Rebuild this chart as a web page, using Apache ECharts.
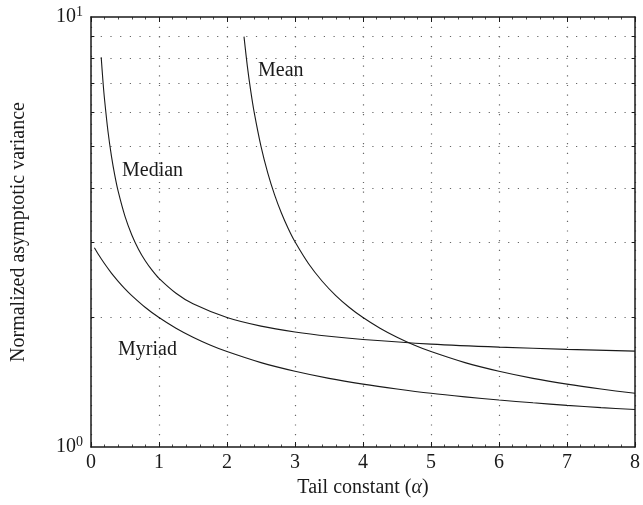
<!DOCTYPE html>
<html>
<head>
<meta charset="utf-8">
<script src="https://cdn.jsdelivr.net/npm/echarts@6/dist/echarts.min.js"></script>
<style>
html,body{margin:0;padding:0;background:#fff;}
#chart{width:643px;height:505px;}
</style>
</head>
<body>
<div id="chart"></div>
<script>
// Tail constant (alpha) samples and normalized asymptotic variance
var meanAlpha   = [2.25, 2.3, 2.35, 2.4, 2.5, 2.6, 2.7, 2.8, 2.9, 3.0, 3.2, 3.4, 3.6, 3.8, 4.0, 4.25, 4.5, 4.75, 5.0, 5.5, 6.0, 6.5, 7.0, 7.5, 8.0];
var meanValues  = [9.0, 7.667, 6.714, 6.0, 5.0, 4.333, 3.857, 3.5, 3.222, 3.0, 2.667, 2.429, 2.25, 2.111, 2.0, 1.889, 1.8, 1.727, 1.667, 1.571, 1.5, 1.444, 1.4, 1.364, 1.333];

var medianAlpha  = [0.15, 0.175, 0.2, 0.25, 0.3, 0.35, 0.4, 0.5, 0.6, 0.7, 0.8, 0.9, 1.0, 1.25, 1.5, 2.0, 2.5, 3.0, 3.5, 4.0, 5.0, 6.0, 7.0, 8.0];
var medianValues = [8.06, 7.12, 6.41, 5.415, 4.753, 4.281, 3.929, 3.438, 3.112, 2.880, 2.707, 2.574, 2.467, 2.278, 2.153, 2.0, 1.910, 1.851, 1.809, 1.778, 1.735, 1.707, 1.687, 1.671];

var myriadAlpha  = [0.05, 0.1, 0.2, 0.3, 0.4, 0.5, 0.6, 0.8, 1.0, 1.25, 1.5, 1.75, 2.0, 2.5, 3.0, 3.5, 4.0, 4.5, 5.0, 5.5, 6.0, 6.5, 7.0, 7.5, 8.0];
var myriadValues = [2.905, 2.818, 2.667, 2.538, 2.429, 2.333, 2.25, 2.111, 2.0, 1.889, 1.8, 1.727, 1.667, 1.571, 1.5, 1.444, 1.4, 1.364, 1.333, 1.308, 1.286, 1.267, 1.25, 1.235, 1.222];

var xTicks = [0, 1, 2, 3, 4, 5, 6, 7, 8];
var yMinorValues = [2, 3, 4, 5, 6, 7, 8, 9];
var yLabels = {1: '10{s|0}', 10: '10{s|1}'};

function pairs(xs, ys) { return xs.map(function (x, i) { return [x, ys[i]]; }); }

var FONT = '"Liberation Serif", "DejaVu Serif", serif';
var INK = '#1a1a1a';

var lineStyle = { color: INK, width: 1.1 };

var gridDots = yMinorValues.map(function (v) { return { yAxis: v }; });
var leftTicks = yMinorValues.map(function (v) { return [{ coord: [0, v] }, { coord: [0.05, v] }]; });
var rightTicks = yMinorValues.map(function (v) { return [{ coord: [7.95, v] }, { coord: [8, v] }]; });

var chart = echarts.init(document.getElementById('chart'), null, { renderer: 'canvas' });

chart.setOption({
  animation: false,
  backgroundColor: '#fff',
  grid: { left: 91, right: 7, top: 17, bottom: 58, containLabel: false },
  xAxis: [{
    type: 'value', min: 0, max: 8, interval: 1, position: 'bottom',
    name: 'Tail constant ({i|α})', nameLocation: 'middle', nameGap: 30,
    nameTextStyle: { fontFamily: FONT, fontSize: 20, color: INK,
      rich: { i: { fontFamily: FONT, fontStyle: 'italic', fontSize: 20, color: INK } } },
    axisLine: { show: true, onZero: false, lineStyle: { color: INK, width: 1.5 } },
    axisTick: { show: true, inside: true, length: 5, lineStyle: { color: INK, width: 1 } },
    minorTick: { show: true, splitNumber: 5, length: 2.5, lineStyle: { color: INK, width: 0.8 } },
    axisLabel: { fontFamily: FONT, fontSize: 20, color: INK, margin: 6 },
    splitLine: { show: true, lineStyle: { color: '#666', width: 1.2, type: [1.2, 8.5] } }
  }, {
    type: 'value', min: 0, max: 8, interval: 1, position: 'top',
    axisLine: { show: true, onZero: false, lineStyle: { color: INK, width: 1.5 } },
    axisTick: { show: true, inside: true, length: 5, lineStyle: { color: INK, width: 1 } },
    minorTick: { show: true, splitNumber: 5, length: 2.5, lineStyle: { color: INK, width: 0.8 } },
    axisLabel: { show: false },
    splitLine: { show: false }
  }],
  yAxis: [{
    type: 'log', logBase: 10, min: 1, max: 10, position: 'left',
    name: 'Normalized asymptotic variance', nameLocation: 'middle', nameGap: 62,
    nameTextStyle: { fontFamily: FONT, fontSize: 20, color: INK },
    axisLine: { show: true, onZero: false, lineStyle: { color: INK, width: 1.5 } },
    axisTick: { show: false },
    axisLabel: {
      fontFamily: FONT, fontSize: 20, color: INK, margin: 8,
      formatter: function (v) { return yLabels[Math.round(v)] || ''; },
      rich: { s: { fontFamily: FONT, fontSize: 14, color: INK, verticalAlign: 'top', padding: [0, 0, 10, 0] } }
    },
    splitLine: { show: false }
  }, {
    type: 'log', logBase: 10, min: 1, max: 10, position: 'right',
    axisLine: { show: true, onZero: false, lineStyle: { color: INK, width: 1.5 } },
    axisTick: { show: false },
    axisLabel: { show: false },
    splitLine: { show: false }
  }],
  series: [{
    name: 'Mean', type: 'line', data: pairs(meanAlpha, meanValues),
    showSymbol: false, symbol: 'none', smooth: 0.3, lineStyle: lineStyle, z: 5,
    markLine: {
      silent: true, symbol: 'none', label: { show: false },
      lineStyle: { color: '#666', width: 1.2, type: [1.2, 8.5] },
      data: gridDots
    }
  }, {
    name: 'Median', type: 'line', data: pairs(medianAlpha, medianValues),
    showSymbol: false, symbol: 'none', smooth: 0.3, lineStyle: lineStyle, z: 5,
    markLine: {
      silent: true, symbol: 'none', label: { show: false },
      lineStyle: { color: INK, width: 1, type: 'solid' },
      data: leftTicks.concat(rightTicks)
    }
  }, {
    name: 'Myriad', type: 'line', data: pairs(myriadAlpha, myriadValues),
    showSymbol: false, symbol: 'none', smooth: 0.3, lineStyle: lineStyle, z: 5
  }],
  graphic: [
    { type: 'text', left: 258, top: 61, style: { text: 'Mean', font: '20px ' + FONT, fill: INK } },
    { type: 'text', left: 122, top: 161, style: { text: 'Median', font: '20px ' + FONT, fill: INK } },
    { type: 'text', left: 118, top: 340, style: { text: 'Myriad', font: '20px ' + FONT, fill: INK } }
  ]
});
</script>
</body>
</html>
